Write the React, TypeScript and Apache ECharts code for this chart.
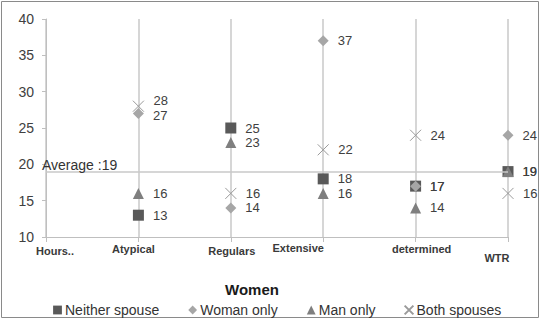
import React, { useEffect, useRef } from "react";
import * as echarts from "echarts";

const categories = ["Hours..", "Atypical", "Regulars", "Extensive", "determined", "WTR"];
const neitherSpouse = [null, 13, 25, 18, 17, 19];
const womanOnly = [null, 27, 14, 37, 17, 24];
const manOnly = [null, 16, 23, 16, 14, 19];
const bothSpouses = [null, 28, 16, 22, 24, 16];
const averageValue = 19;
const seriesNames = ["Neither spouse", "Woman only", "Man only", "Both spouses"];

// label offsets per category [dx, dy] (visual tweak of label placement)
const labelShift: Record<string, [number, number]> = {
  "Hours..": [9, 3],
  Atypical: [-5, 1],
  Regulars: [1, 3],
  Extensive: [-25, 0],
  determined: [6, 1],
  WTR: [-11, 10],
};

const xPath = "path://M0,0L10,10M10,0L0,10";

export default function App() {
  const ref = useRef<HTMLDivElement>(null);
  useEffect(() => {
    if (!ref.current) return;
    const chart = echarts.init(ref.current, undefined, { renderer: "svg" });
    const rich: Record<string, any> = {};
    categories.forEach((c, i) => {
      const [dx, dy] = labelShift[c];
      rich["c" + i] = {
        fontSize: 11,
        fontWeight: "bold",
        color: "#3a3a3a",
        fontFamily: "Liberation Sans",
        padding: [dy, dx < 0 ? -2 * dx : 0, 0, dx > 0 ? 2 * dx : 0],
      };
    });
    const labelCommon = {
      show: true,
      position: "right" as const,
      distance: 9,
      fontSize: 13,
      color: "#404040",
      fontFamily: "Liberation Sans",
    };
    const withNudge = (arr: (number | null)[], idx: number, dy: number) =>
      arr.map((v, i) => (i === idx && v != null ? { value: v, label: { offset: [0, dy] } } : v));
    chart.setOption({
      animation: false,
      backgroundColor: "#ffffff",
      title: {
        text: "Women",
        left: 247,
        top: 277,
        textAlign: "center",
        textStyle: { fontSize: 15, fontWeight: "bold", color: "#1a1a1a", fontFamily: "Liberation Sans" },
      },
      legend: {
        data: seriesNames,
        left: 47,
        top: 298,
        itemWidth: 11,
        itemHeight: 11,
        itemGap: 28,
        textStyle: { fontSize: 14, color: "#333", fontFamily: "Liberation Sans", padding: [0, 0, 0, -3] },
      },
      graphic: [
        {
          type: "rect",
          shape: { x: 1.5, y: 1.5, width: 537, height: 316 },
          style: { fill: "none", stroke: "#8a8a8a", lineWidth: 1 },
          silent: true,
        },
      ],
      grid: { left: 46, right: 33, top: 19, bottom: 83 },
      xAxis: {
        type: "category",
        data: categories,
        boundaryGap: false,
        axisLine: { lineStyle: { color: "#bfbfbf", width: 1 } },
        axisTick: { show: true, length: 5, lineStyle: { color: "#bfbfbf" } },
        splitLine: { show: true, lineStyle: { color: "#c8c8c8", width: 1.5 } },
        axisLabel: {
          margin: 5,
          interval: 0,
          formatter: (v: string) => `{c${categories.indexOf(v)}|${v}}`,
          rich,
        },
      },
      yAxis: {
        type: "value",
        min: 10,
        max: 40,
        interval: 5,
        axisLine: { show: true, lineStyle: { color: "#bfbfbf" } },
        axisTick: { show: true, length: 4, lineStyle: { color: "#bfbfbf" } },
        splitLine: { show: false },
        axisLabel: { fontSize: 14, color: "#404040", margin: 12, fontFamily: "Liberation Sans" },
      },
      series: [
        {
          name: seriesNames[0],
          type: "line",
          data: neitherSpouse,
          lineStyle: { width: 0 },
          symbol: "rect",
          symbolSize: 11,
          itemStyle: { color: "#595959" },
          label: labelCommon,
          markLine: {
            silent: true,
            symbol: "none",
            lineStyle: { color: "#c8c8c8", type: "solid", width: 1.5 },
            label: {
              position: "insideStartTop",
              formatter: "Average :" + averageValue,
              fontSize: 14,
              color: "#333",
              fontFamily: "Liberation Sans",
              distance: [-4, 0],
            },
            data: [{ yAxis: averageValue }],
          },
        },
        {
          name: seriesNames[1],
          type: "line",
          data: withNudge(womanOnly, 1, 2),
          lineStyle: { width: 0 },
          symbol: "diamond",
          symbolSize: 11,
          itemStyle: { color: "#a6a6a6" },
          label: labelCommon,
        },
        {
          name: seriesNames[2],
          type: "line",
          data: manOnly,
          lineStyle: { width: 0 },
          symbol: "triangle",
          symbolSize: 11,
          itemStyle: { color: "#7f7f7f" },
          label: labelCommon,
        },
        {
          name: seriesNames[3],
          type: "line",
          data: withNudge(bothSpouses, 1, -6),
          lineStyle: { width: 0 },
          symbol: xPath,
          symbolSize: 11,
          itemStyle: { color: "transparent", borderColor: "#9a9a9a", borderWidth: 1 },
          label: labelCommon,
        },
      ],
    });
    return () => chart.dispose();
  }, []);
  return <div ref={ref} style={{ position: "fixed", left: 0, top: 0, width: 541, height: 320 }} />;
}
